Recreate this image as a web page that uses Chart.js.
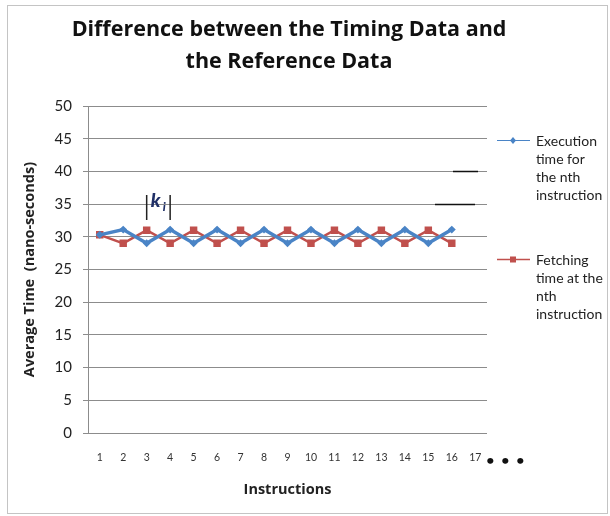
<!DOCTYPE html>
<html>
<head>
<meta charset="utf-8">
<title>Timing Data</title>
<script src="https://cdn.jsdelivr.net/npm/chart.js@4/dist/chart.umd.min.js"></script>
<style>
  html, body { margin: 0; padding: 0; background: #fff; }
</style>
</head>
<body>
<canvas id="timingChart" width="610" height="516"></canvas>
<script>
// chart data
const instructions = ['1', '2', '3', '4', '5', '6', '7', '8', '9', '10', '11', '12', '13', '14', '15', '16', '17'];
const executionTime = [30.3, 31.1, 29, 31.1, 29, 31.1, 29, 31.1, 29, 31.1, 29, 31.1, 29, 31.1, 29, 31.1];
const fetchingTime = [30.3, 29, 31, 29, 31, 29, 31, 29, 31, 29, 31, 29, 31, 29, 31, 29];
const seriesNames = [
    ['Execution', 'time for', 'the nth', 'instruction'],
    ['Fetching', 'time at the', 'nth', 'instruction']
];
const yMin = 0, yMax = 50, yStep = 5;

const FONT = 'Lato';
const BOLD_FONT = '"Open Sans"';
const BLUE = '#4A84C6';
const RED = '#C0504D';
const GRID = '#8c8c8c';

// Draws the frame, the multi-line legend, the |k_i| note and the trailing dots
const extrasPlugin = {
    id: 'extras',
    afterDraw(chart) {
        const ctx = chart.ctx;
        const area = chart.chartArea;
        const x = chart.scales.x;
        const y = chart.scales.y;
        ctx.save();

        // outer frame
        ctx.strokeStyle = '#c4c4c4';
        ctx.lineWidth = 1;
        ctx.strokeRect(7.5, 5.5, 600, 508);

        // stray black strokes on the 35 / 40 gridlines
        ctx.strokeStyle = '#111';
        ctx.lineWidth = 1.5;
        ctx.beginPath();
        ctx.moveTo(area.right - 34, Math.round(y.getPixelForValue(40)) + 0.5);
        ctx.lineTo(area.right - 9, Math.round(y.getPixelForValue(40)) + 0.5);
        ctx.moveTo(area.right - 52, Math.round(y.getPixelForValue(35)) + 0.5);
        ctx.lineTo(area.right - 12, Math.round(y.getPixelForValue(35)) + 0.5);
        ctx.stroke();

        // legend
        const lx = area.right + 10;
        const legendY = [140, 259];
        const colors = [BLUE, RED];
        ctx.font = '14px ' + FONT;
        ctx.textBaseline = 'middle';
        ctx.textAlign = 'left';
        legendY.forEach((ly, i) => {
            ctx.strokeStyle = colors[i];
            ctx.lineWidth = i === 0 ? 1 : 1.5;
            ctx.beginPath();
            ctx.moveTo(lx, ly + 0.5);
            ctx.lineTo(lx + 33, ly + 0.5);
            ctx.stroke();
            ctx.fillStyle = colors[i];
            if (i === 0) {
                ctx.beginPath();
                ctx.moveTo(lx + 16, ly - 3);
                ctx.lineTo(lx + 19, ly + 0.5);
                ctx.lineTo(lx + 16, ly + 4);
                ctx.lineTo(lx + 13, ly + 0.5);
                ctx.closePath();
                ctx.fill();
            } else {
                ctx.fillRect(lx + 13, ly - 2.5, 6, 6);
            }
            ctx.fillStyle = '#222';
            seriesNames[i].forEach((t, j) => {
                ctx.fillText(t, lx + 39, ly + 1 + j * 18);
            });
        });

        // |k_i| annotation between instructions 3 and 4
        const x3 = x.getPixelForValue(2);
        const x4 = x.getPixelForValue(3);
        ctx.strokeStyle = '#222';
        ctx.lineWidth = 1.5;
        ctx.beginPath();
        ctx.moveTo(x3, 195);
        ctx.lineTo(x3, 220);
        ctx.moveTo(x4, 195);
        ctx.lineTo(x4, 220);
        ctx.stroke();
        ctx.fillStyle = '#1f2f66';
        ctx.textBaseline = 'alphabetic';
        ctx.font = 'italic 900 19px ' + FONT;
        ctx.fillText('k', x3 + 4, 207);
        ctx.font = 'italic 900 12px ' + FONT;
        ctx.fillText('i', x3 + 16, 211);

        // trailing dots after the last instruction
        ctx.fillStyle = '#111';
        ctx.font = 'bold 14px ' + FONT;
        ctx.textAlign = 'center';
        ctx.textBaseline = 'middle';
        const last = x.getPixelForValue(instructions.length - 1);
        for (let i = 1; i <= 3; i++) {
            ctx.fillText('\u2022', last + 15 * i, 460);
        }
        ctx.restore();
    }
};

const ctx = document.getElementById('timingChart').getContext('2d');
new Chart(ctx, {
    type: 'line',
    data: {
        labels: instructions,
        datasets: [{
            label: seriesNames[0].join(' '),
            data: executionTime,
            borderColor: BLUE,
            backgroundColor: BLUE,
            borderWidth: 3.5,
            pointStyle: 'rectRot',
            pointRadius: 1.5,
            tension: 0,
            yAxisID: 'y'
        }, {
            label: seriesNames[1].join(' '),
            data: fetchingTime,
            borderColor: RED,
            backgroundColor: RED,
            borderWidth: 2.5,
            pointStyle: 'rect',
            pointRadius: 3.5,
            tension: 0,
            yAxisID: 'y'
        }]
    },
    options: {
        responsive: false,
        animation: false,
        layout: { padding: { left: 0, right: 32, top: 0, bottom: 0 } },
        plugins: {
            legend: { display: false },
            tooltip: { enabled: false },
            title: {
                display: true,
                text: ['Difference between the Timing Data and', 'the Reference Data'],
                color: '#111',
                font: { family: BOLD_FONT, size: 21.5, weight: 'bold', lineHeight: '32px' },
                padding: { top: 14, bottom: 28 }
            }
        },
        scales: {
            x: {
                type: 'category',
                offset: true,
                grid: { display: false, drawTicks: false },
                border: { display: false },
                ticks: {
                    autoSkip: false,
                    maxRotation: 0,
                    padding: 18,
                    color: '#333',
                    font: { family: FONT, size: 10.5 }
                },
                title: {
                    display: true,
                    text: 'Instructions',
                    color: '#222',
                    font: { family: BOLD_FONT, size: 14.5, weight: 'bold' },
                    padding: { top: 0, bottom: 17 }
                },
                afterFit(scale) { scale.height = 83; }
            },
            y: {
                position: 'left',
                min: yMin,
                max: yMax,
                grid: { color: GRID, tickLength: 5 },
                border: { color: GRID },
                ticks: {
                    stepSize: yStep,
                    padding: 11,
                    color: '#222',
                    font: { family: FONT, size: 15 }
                },
                title: {
                    display: true,
                    text: 'Average Time  (nano-seconds)',
                    color: '#222',
                    font: { family: BOLD_FONT, size: 14.5, weight: 'bold' },
                    padding: { top: 21 }
                },
                afterFit(scale) { scale.width = 88; }
            },
            // empty right-hand axis that keeps room for the legend
            side: {
                position: 'right',
                display: true,
                min: yMin,
                max: yMax,
                grid: { display: false, drawTicks: false },
                border: { display: false },
                ticks: { display: false },
                afterFit(scale) { scale.width = 91; }
            }
        }
    },
    plugins: [extrasPlugin]
});
</script>
</body>
</html>
